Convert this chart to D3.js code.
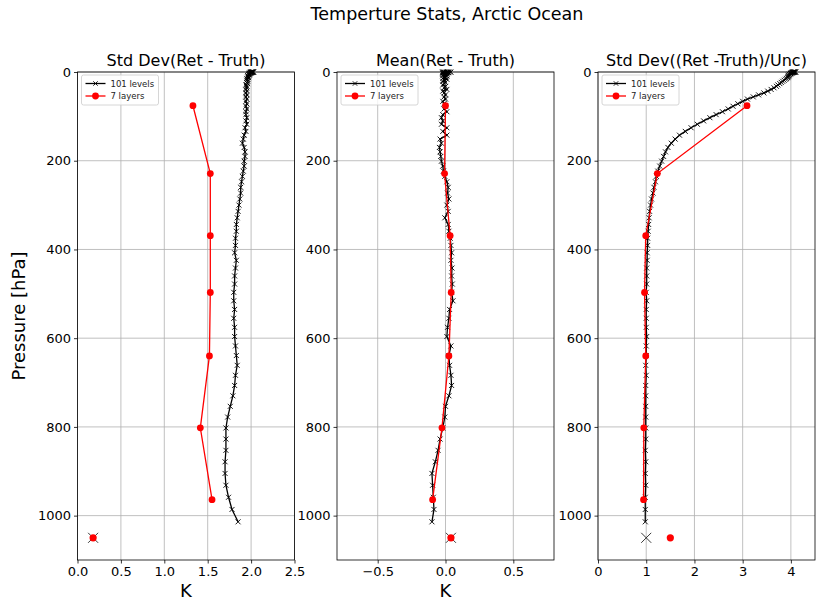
<!DOCTYPE html>
<html>
<head>
<meta charset="utf-8">
<script src="https://cdn.jsdelivr.net/npm/d3@7"></script>
<style>
  body { margin: 0; background: #fff; }
  text { font-family: "DejaVu Sans", sans-serif; }
</style>
</head>
<body>
<script>
// pressure grid of the 101 levels (only the levels above the surface are plotted)
const levelP = [0.005, 0.0161, 0.0384, 0.0769, 0.137, 0.2244, 0.3454, 0.5064, 0.714, 0.9753,
  1.2972, 1.6872, 2.1526, 2.7009, 3.3398, 4.077, 4.9204, 5.8776, 6.9567, 8.1655,
  9.5119, 11.0038, 12.6492, 14.4559, 16.4318, 18.5847, 20.9224, 23.4526, 26.1829, 29.121,
  32.2744, 35.6505, 39.2566, 43.1001, 47.1882, 51.5278, 56.126, 60.9895, 66.1253, 71.5398,
  77.2396, 83.231, 89.5204, 96.1138, 103.017, 110.237, 117.777, 125.646, 133.846, 142.385,
  151.266, 160.496, 170.078, 180.018, 190.32, 200.989, 212.028, 223.441, 235.234, 247.408,
  259.969, 272.919, 286.262, 300, 314.137, 328.675, 343.618, 358.966, 374.724, 390.893,
  407.474, 424.47, 441.882, 459.712, 477.961, 496.63, 515.72, 535.232, 555.167, 575.525,
  596.306, 617.511, 639.14, 661.192, 683.667, 706.565, 729.886, 753.628, 777.79, 802.371,
  827.371, 852.788, 878.62, 904.866, 931.524, 958.591, 986.067, 1013.95];

const stdLevels = [2.02, 2.03, 2.01, 2.02, 2.00, 2.01, 2.02, 2.00, 1.99, 2.01,
  2.00, 1.99, 2.00, 1.98, 1.99, 1.98, 1.98, 1.97, 1.98, 1.96,
  1.97, 1.96, 1.97, 1.95, 1.96, 1.95, 1.96, 1.95, 1.96, 1.94,
  1.95, 1.95, 1.94, 1.95, 1.94, 1.95, 1.94, 1.95, 1.94, 1.95,
  1.94, 1.95, 1.94, 1.94, 1.95, 1.94, 1.95, 1.93, 1.94, 1.92,
  1.91, 1.90, 1.92, 1.93, 1.93, 1.92, 1.92, 1.91, 1.90, 1.89,
  1.88, 1.88, 1.87, 1.86, 1.85, 1.84, 1.83, 1.83, 1.82, 1.82,
  1.81, 1.83, 1.82, 1.81, 1.81, 1.80, 1.80, 1.81, 1.80, 1.81,
  1.81, 1.82, 1.83, 1.84, 1.82, 1.81, 1.79, 1.76, 1.73, 1.71,
  1.71, 1.71, 1.70, 1.70, 1.71, 1.74, 1.78, 1.85];

const meanLevels = [0.01, 0.03, -0.02, 0.02, -0.01, 0.04, 0.00, -0.02, 0.02, 0.01,
  -0.01, 0.02, -0.02, 0.00, 0.01, -0.02, 0.01, -0.01, 0.00, -0.02,
  0.01, -0.01, 0.00, -0.02, 0.01, -0.01, -0.02, 0.00, -0.01, -0.02,
  0.00, -0.01, 0.01, -0.02, -0.01, 0.00, -0.01, 0.00, -0.02, -0.01,
  0.00, -0.01, 0.01, -0.02, -0.03, -0.02, -0.03, 0.01, -0.02, 0.01,
  -0.04, -0.03, -0.045, -0.04, -0.035, -0.03, -0.02, -0.015, -0.005, 0.01,
  0.02, 0.015, 0.025, 0.01, 0.02, -0.005, 0.02, 0.025, 0.035, 0.04,
  0.045, 0.04, 0.048, 0.045, 0.05, 0.045, 0.055, 0.03, 0.025, 0.015,
  0.01, 0.04, 0.025, 0.03, 0.04, 0.045, 0.025, 0.00, -0.005, -0.02,
  -0.04, -0.055, -0.075, -0.10, -0.095, -0.09, -0.085, -0.10];

const normLevels = [4.08, 4.10, 4.06, 4.09, 4.05, 4.07, 4.04, 4.06, 4.03, 4.05,
  4.02, 4.03, 4.00, 4.02, 3.99, 4.00, 3.97, 3.98, 3.95, 3.96,
  3.95, 3.94, 3.93, 3.91, 3.89, 3.86, 3.83, 3.80, 3.77, 3.73,
  3.70, 3.65, 3.59, 3.52, 3.44, 3.33, 3.22, 3.10, 3.00, 2.90,
  2.80, 2.70, 2.58, 2.45, 2.32, 2.19, 2.06, 1.93, 1.81, 1.69,
  1.60, 1.52, 1.45, 1.40, 1.36, 1.32, 1.28, 1.24, 1.21, 1.19,
  1.16, 1.14, 1.11, 1.09, 1.07, 1.06, 1.05, 1.04, 1.03, 1.03,
  1.02, 1.02, 1.01, 1.01, 1.01, 1.00, 1.01, 1.00, 1.00, 1.00,
  1.01, 1.00, 1.00, 0.99, 1.00, 0.99, 0.99, 0.99, 0.99, 0.99,
  0.99, 0.98, 0.99, 0.98, 0.99, 0.98, 0.98, 0.98];

// 7 layers
const layerP = [76, 229, 369, 497, 640, 802, 964];
const stdLayers = [1.33, 1.53, 1.53, 1.53, 1.52, 1.415, 1.55];
const meanLayers = [0.0, -0.007, 0.034, 0.042, 0.025, -0.026, -0.095];
const normLayers = [3.09, 1.23, 0.99, 0.965, 0.99, 0.95, 0.945];

// surface values drawn below the profiles
const surfP = 1050;
const surfLevelVals = [0.18, 0.04, 1.0];
const surfLayerVals = [0.18, 0.04, 1.5];

const panelTitles = ["Std Dev(Ret - Truth)", "Mean(Ret - Truth)", "Std Dev((Ret -Truth)/Unc)"];
const panelDomains = [[0, 2.5], [-0.8, 0.8], [0, 4.5]];
const panelTicks = [[0, 0.5, 1.0, 1.5, 2.0, 2.5], [-0.5, 0, 0.5], [0, 1, 2, 3, 4]];
const panelFormats = [".1f", ".1f", "d"];
const panelXLabels = ["K", "K", ""];
const yTicks = [0, 200, 400, 600, 800, 1000];
const legendItems = ["101 levels", "7 layers"];

const width = 817, height = 603;
const axLefts = [77.5, 337, 598];
const axW = 217;
const axTop = 72, axBottom = 560;

const svg = d3.select("body").append("svg")
  .attr("width", width).attr("height", height);

svg.append("text")
  .attr("x", 447).attr("y", 20)
  .attr("text-anchor", "middle")
  .attr("font-size", 17.5)
  .text("Temperture Stats, Arctic Ocean");

const y = d3.scaleLinear().domain([0, 1100]).range([axTop, axBottom]);

const xMark = (s) => `M${-s},${-s}L${s},${s}M${-s},${s}L${s},${-s}`;

const panels = [
  {lev: stdLevels, lay: stdLayers},
  {lev: meanLevels, lay: meanLayers},
  {lev: normLevels, lay: normLayers}
];

panels.forEach((p, k) => {
  const x = d3.scaleLinear().domain(panelDomains[k]).range([axLefts[k], axLefts[k] + axW]);
  const g = svg.append("g");

  // grid
  g.selectAll("line.vg").data(panelTicks[k]).enter().append("line")
    .attr("x1", d => x(d)).attr("x2", d => x(d))
    .attr("y1", axTop).attr("y2", axBottom)
    .attr("stroke", "#b0b0b0").attr("stroke-width", 0.8);
  g.selectAll("line.hg").data(yTicks).enter().append("line")
    .attr("x1", x.range()[0]).attr("x2", x.range()[1])
    .attr("y1", d => y(d)).attr("y2", d => y(d))
    .attr("stroke", "#b0b0b0").attr("stroke-width", 0.8);

  // axes
  const xAxis = d3.axisBottom(x).tickValues(panelTicks[k])
    .tickFormat(d3.format(panelFormats[k])).tickSize(3.5).tickPadding(3);
  const ax = g.append("g").attr("transform", `translate(0,${axBottom})`).call(xAxis);
  const yAxis = d3.axisLeft(y).tickValues(yTicks).tickFormat(d3.format("d"))
    .tickSize(3.5).tickPadding(3);
  const ay = g.append("g").attr("transform", `translate(${axLefts[k]},0)`).call(yAxis);
  [ax, ay].forEach(a => {
    a.select(".domain").remove();
    a.selectAll("text").attr("font-size", 13).attr("fill", "#000")
      .attr("font-family", "DejaVu Sans, sans-serif");
    a.selectAll("line").attr("stroke", "#000").attr("stroke-width", 0.8);
  });

  g.append("rect")
    .attr("x", x.range()[0]).attr("y", axTop)
    .attr("width", axW).attr("height", axBottom - axTop)
    .attr("fill", "none").attr("stroke", "#000").attr("stroke-width", 0.8);

  // 101 levels
  const lineLev = d3.line().x(d => x(d[1])).y(d => y(d[0]));
  const levPts = levelP.map((pp, i) => [pp, p.lev[i]]);
  g.append("path").datum(levPts).attr("d", lineLev)
    .attr("fill", "none").attr("stroke", "#000").attr("stroke-width", 1.3);
  g.selectAll("path.xm").data(levPts).enter().append("path")
    .attr("transform", d => `translate(${x(d[1])},${y(d[0])})`)
    .attr("d", xMark(2.5))
    .attr("stroke", "#000").attr("stroke-width", 0.9).attr("fill", "none");

  // 7 layers
  const layPts = layerP.map((pp, i) => [pp, p.lay[i]]);
  g.append("path").datum(layPts).attr("d", lineLev)
    .attr("fill", "none").attr("stroke", "red").attr("stroke-width", 1.3);
  g.selectAll("circle.lay").data(layPts).enter().append("circle")
    .attr("cx", d => x(d[1])).attr("cy", d => y(d[0])).attr("r", 3.4)
    .attr("fill", "red");

  // surface markers
  g.append("path")
    .attr("transform", `translate(${x(surfLevelVals[k])},${y(surfP)})`)
    .attr("d", xMark(5))
    .attr("stroke", "#222").attr("stroke-width", 0.9).attr("fill", "none");
  g.append("circle")
    .attr("cx", x(surfLayerVals[k])).attr("cy", y(surfP)).attr("r", 3.6)
    .attr("fill", "red");

  // title and x label
  g.append("text")
    .attr("x", axLefts[k] + axW / 2).attr("y", 66)
    .attr("text-anchor", "middle").attr("font-size", 16)
    .text(panelTitles[k]);
  if (panelXLabels[k]) {
    g.append("text")
      .attr("x", axLefts[k] + axW / 2).attr("y", 597)
      .attr("text-anchor", "middle").attr("font-size", 18)
      .text(panelXLabels[k]);
  }

  // legend
  const lg = g.append("g").attr("transform", `translate(${axLefts[k] + 4},75)`);
  lg.append("rect").attr("width", 77).attr("height", 30).attr("rx", 2)
    .attr("fill", "rgba(255,255,255,0.8)").attr("stroke", "#ccc").attr("stroke-width", 0.8);
  const items = lg.selectAll("g.li").data(legendItems).enter().append("g")
    .attr("transform", (d, i) => `translate(0,${8.5 + i * 12.5})`);
  items.append("line").attr("x1", 4).attr("x2", 24)
    .attr("stroke", (d, i) => i === 0 ? "#000" : "red").attr("stroke-width", 1.3);
  items.filter((d, i) => i === 0).append("path")
    .attr("transform", "translate(14,0)").attr("d", xMark(2.2))
    .attr("stroke", "#000").attr("stroke-width", 0.9);
  items.filter((d, i) => i === 1).append("circle")
    .attr("cx", 14).attr("r", 3.4).attr("fill", "red");
  items.append("text").attr("x", 29).attr("y", 3)
    .attr("font-size", 8.5).attr("fill", "#222").text(d => d);
});

svg.append("text")
  .attr("transform", `translate(25,${(axTop + axBottom) / 2}) rotate(-90)`)
  .attr("text-anchor", "middle").attr("font-size", 18)
  .text("Pressure [hPa]");
</script>
</body>
</html>
